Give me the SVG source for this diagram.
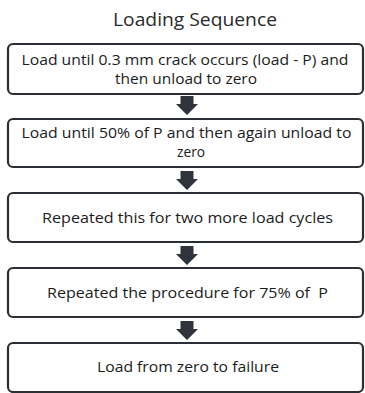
<svg xmlns="http://www.w3.org/2000/svg" width="365" height="393" viewBox="0 0 365 393">
<style>
.box{fill:#fff;stroke:#2a2e35;stroke-width:2.2}
.t{font-family:"Open Sans","Noto Sans","Liberation Sans",sans-serif;font-size:15px;fill:#1c1c1c;text-anchor:middle}
.ttl{font-family:"Open Sans","Noto Sans","Liberation Sans",sans-serif;font-size:18px;fill:#2a2a2a;text-anchor:middle}
.arr{fill:#2f343c}
</style>
<defs>
<path id="a" d="M-6.5,0 H6.5 V8 H11 L0,19 L-11,8 H-6.5 Z"/>
</defs>
<rect width="365" height="393" fill="#fff"/>
<text class="ttl" x="195" y="26" textLength="164" lengthAdjust="spacingAndGlyphs">Loading Sequence</text>
<g id="connectors">
<use href="#a" class="arr" x="187" y="96"/>
<use href="#a" class="arr" x="187" y="171"/>
<use href="#a" class="arr" x="187" y="246"/>
<use href="#a" class="arr" x="187" y="321"/>
</g>
<g id="n1">
<rect class="box" x="8" y="44" width="355" height="50" rx="5"/>
<text class="t" x="185" y="65" textLength="327" lengthAdjust="spacingAndGlyphs">Load until 0.3 mm crack occurs (load - P) and</text>
<text class="t" x="186" y="83.5" textLength="142" lengthAdjust="spacingAndGlyphs">then unload to zero</text>
</g>
<g id="n2">
<rect class="box" x="8" y="119" width="355" height="48" rx="5"/>
<text class="t" x="186.5" y="138" textLength="330" lengthAdjust="spacingAndGlyphs">Load until 50% of P and then again unload to</text>
<text class="t" x="191" y="157" textLength="28" lengthAdjust="spacingAndGlyphs">zero</text>
</g>
<g id="n3">
<rect class="box" x="8" y="193" width="355" height="49" rx="5"/>
<text class="t" x="187.5" y="223" textLength="291" lengthAdjust="spacingAndGlyphs">Repeated this for two more load cycles</text>
</g>
<g id="n4">
<rect class="box" x="8" y="268" width="355" height="49" rx="5"/>
<text class="t" x="187.5" y="298" textLength="281" lengthAdjust="spacingAndGlyphs" xml:space="preserve">Repeated the procedure for 75% of  P</text>
</g>
<g id="n5">
<rect class="box" x="8" y="343" width="355" height="49" rx="5"/>
<text class="t" x="188" y="372" textLength="182" lengthAdjust="spacingAndGlyphs">Load from zero to failure</text>
</g>
</svg>
